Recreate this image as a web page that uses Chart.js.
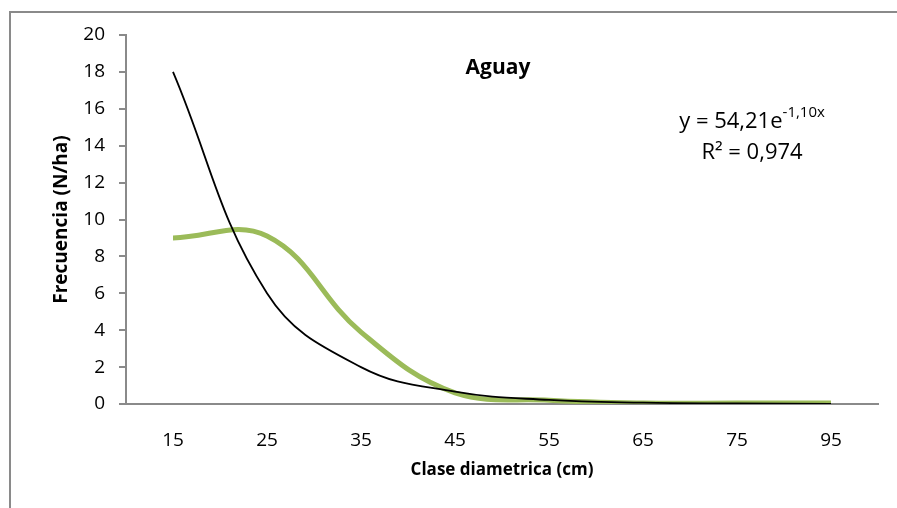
<!DOCTYPE html>
<html>
<head>
<meta charset="utf-8">
<script src="https://cdn.jsdelivr.net/npm/chart.js@4"></script>
<style>
  body { margin: 0; background: #fff; }
  #wrap { position: relative; width: 897px; height: 508px; overflow: hidden; }
  #frame { position: absolute; left: 9px; top: 11px; width: 1000px; height: 600px;
           border-top: 2px solid #8a8a8a; border-left: 2px solid #8a8a8a; }
  canvas { position: absolute; left: 0; top: 0; }
</style>
</head>
<body>
<div id="wrap">
  <div id="frame"></div>
  <canvas id="aguayChart" width="897" height="508"></canvas>
</div>
<script>
// diameter classes (cm)
const clases = ['15', '25', '35', '45', '55', '65', '75', '95'];
const frecuencia = [9.0, 9.1, 3.9, 0.6, 0.2, 0.05, 0.05, 0.05];
// exponential trend line values at each class
const tendencia = [18.0, 6.0, 2.0, 0.67, 0.22, 0.07, 0.03, 0.01];
const yTicks = [0, 2, 4, 6, 8, 10, 12, 14, 16, 18, 20];

const FONT = "'Open Sans', 'Noto Sans', sans-serif";

// title and trend equation drawn on top
const labelsPlugin = {
    id: 'labels',
    afterDraw(chart) {
        const c = chart.ctx;
        c.save();
        c.fillStyle = '#000';
        c.textBaseline = 'alphabetic';
        c.textAlign = 'center';
        c.font = 'bold 21px ' + FONT;
        c.fillText('Aguay', 498, 74);

        // y = 54,21e^-1,10x
        const main = 'y = 54,21e';
        const sup = '-1,10x';
        c.font = '22px ' + FONT;
        const w1 = c.measureText(main).width;
        c.font = '15px ' + FONT;
        const w2 = c.measureText(sup).width;
        const x0 = 752 - (w1 + w2) / 2;
        c.textAlign = 'left';
        c.font = '22px ' + FONT;
        c.fillText(main, x0, 128);
        c.font = '15px ' + FONT;
        c.fillText(sup, x0 + w1, 117);

        c.textAlign = 'center';
        c.font = '22px ' + FONT;
        c.fillText('R² = 0,974', 752, 159);
        c.restore();
    }
};

new Chart(document.getElementById('aguayChart'), {
    type: 'line',
    data: {
        labels: clases,
        datasets: [
            {
                label: 'Frecuencia',
                data: frecuencia,
                borderColor: '#9bbb59',
                borderWidth: 5,
                tension: 0.4,
                pointRadius: 0,
                fill: false,
                order: 1
            },
            {
                label: 'Tendencia',
                data: tendencia,
                borderColor: '#000',
                borderWidth: 1.8,
                tension: 0.4,
                pointRadius: 0,
                fill: false,
                order: 0
            }
        ]
    },
    options: {
        responsive: false,
        animation: false,
        layout: { padding: { top: 35, right: 19, left: 0, bottom: 0 } },
        plugins: {
            legend: { display: false },
            tooltip: { enabled: false }
        },
        scales: {
            x: {
                offset: true,
                grid: { display: false },
                border: { display: true, color: '#8a8a8a', width: 2 },
                ticks: { color: '#000', font: { family: FONT, size: 19 }, padding: 17, maxRotation: 0 },
                title: {
                    display: true,
                    text: 'Clase diametrica (cm)',
                    color: '#000',
                    font: { family: FONT, size: 17, weight: 'bold' },
                    padding: { top: 0, bottom: 28 }
                },
                afterFit(scale) { scale.height = 104; }
            },
            y: {
                min: 0,
                max: 20,
                afterBuildTicks(scale) { scale.ticks = yTicks.map(v => ({ value: v })); },
                grid: { drawOnChartArea: false, drawTicks: true, tickLength: 7, color: '#8a8a8a', lineWidth: 2 },
                border: { display: true, color: '#8a8a8a', width: 2 },
                ticks: { color: '#000', font: { family: FONT, size: 19 }, padding: 14 },
                title: {
                    display: true,
                    text: 'Frecuencia (N/ha)',
                    color: '#000',
                    font: { family: FONT, size: 19, weight: 'bold' },
                    padding: { top: 50, bottom: 0 }
                },
                afterFit(scale) { scale.width = 126; }
            }
        }
    },
    plugins: [labelsPlugin]
});
</script>
</body>
</html>
